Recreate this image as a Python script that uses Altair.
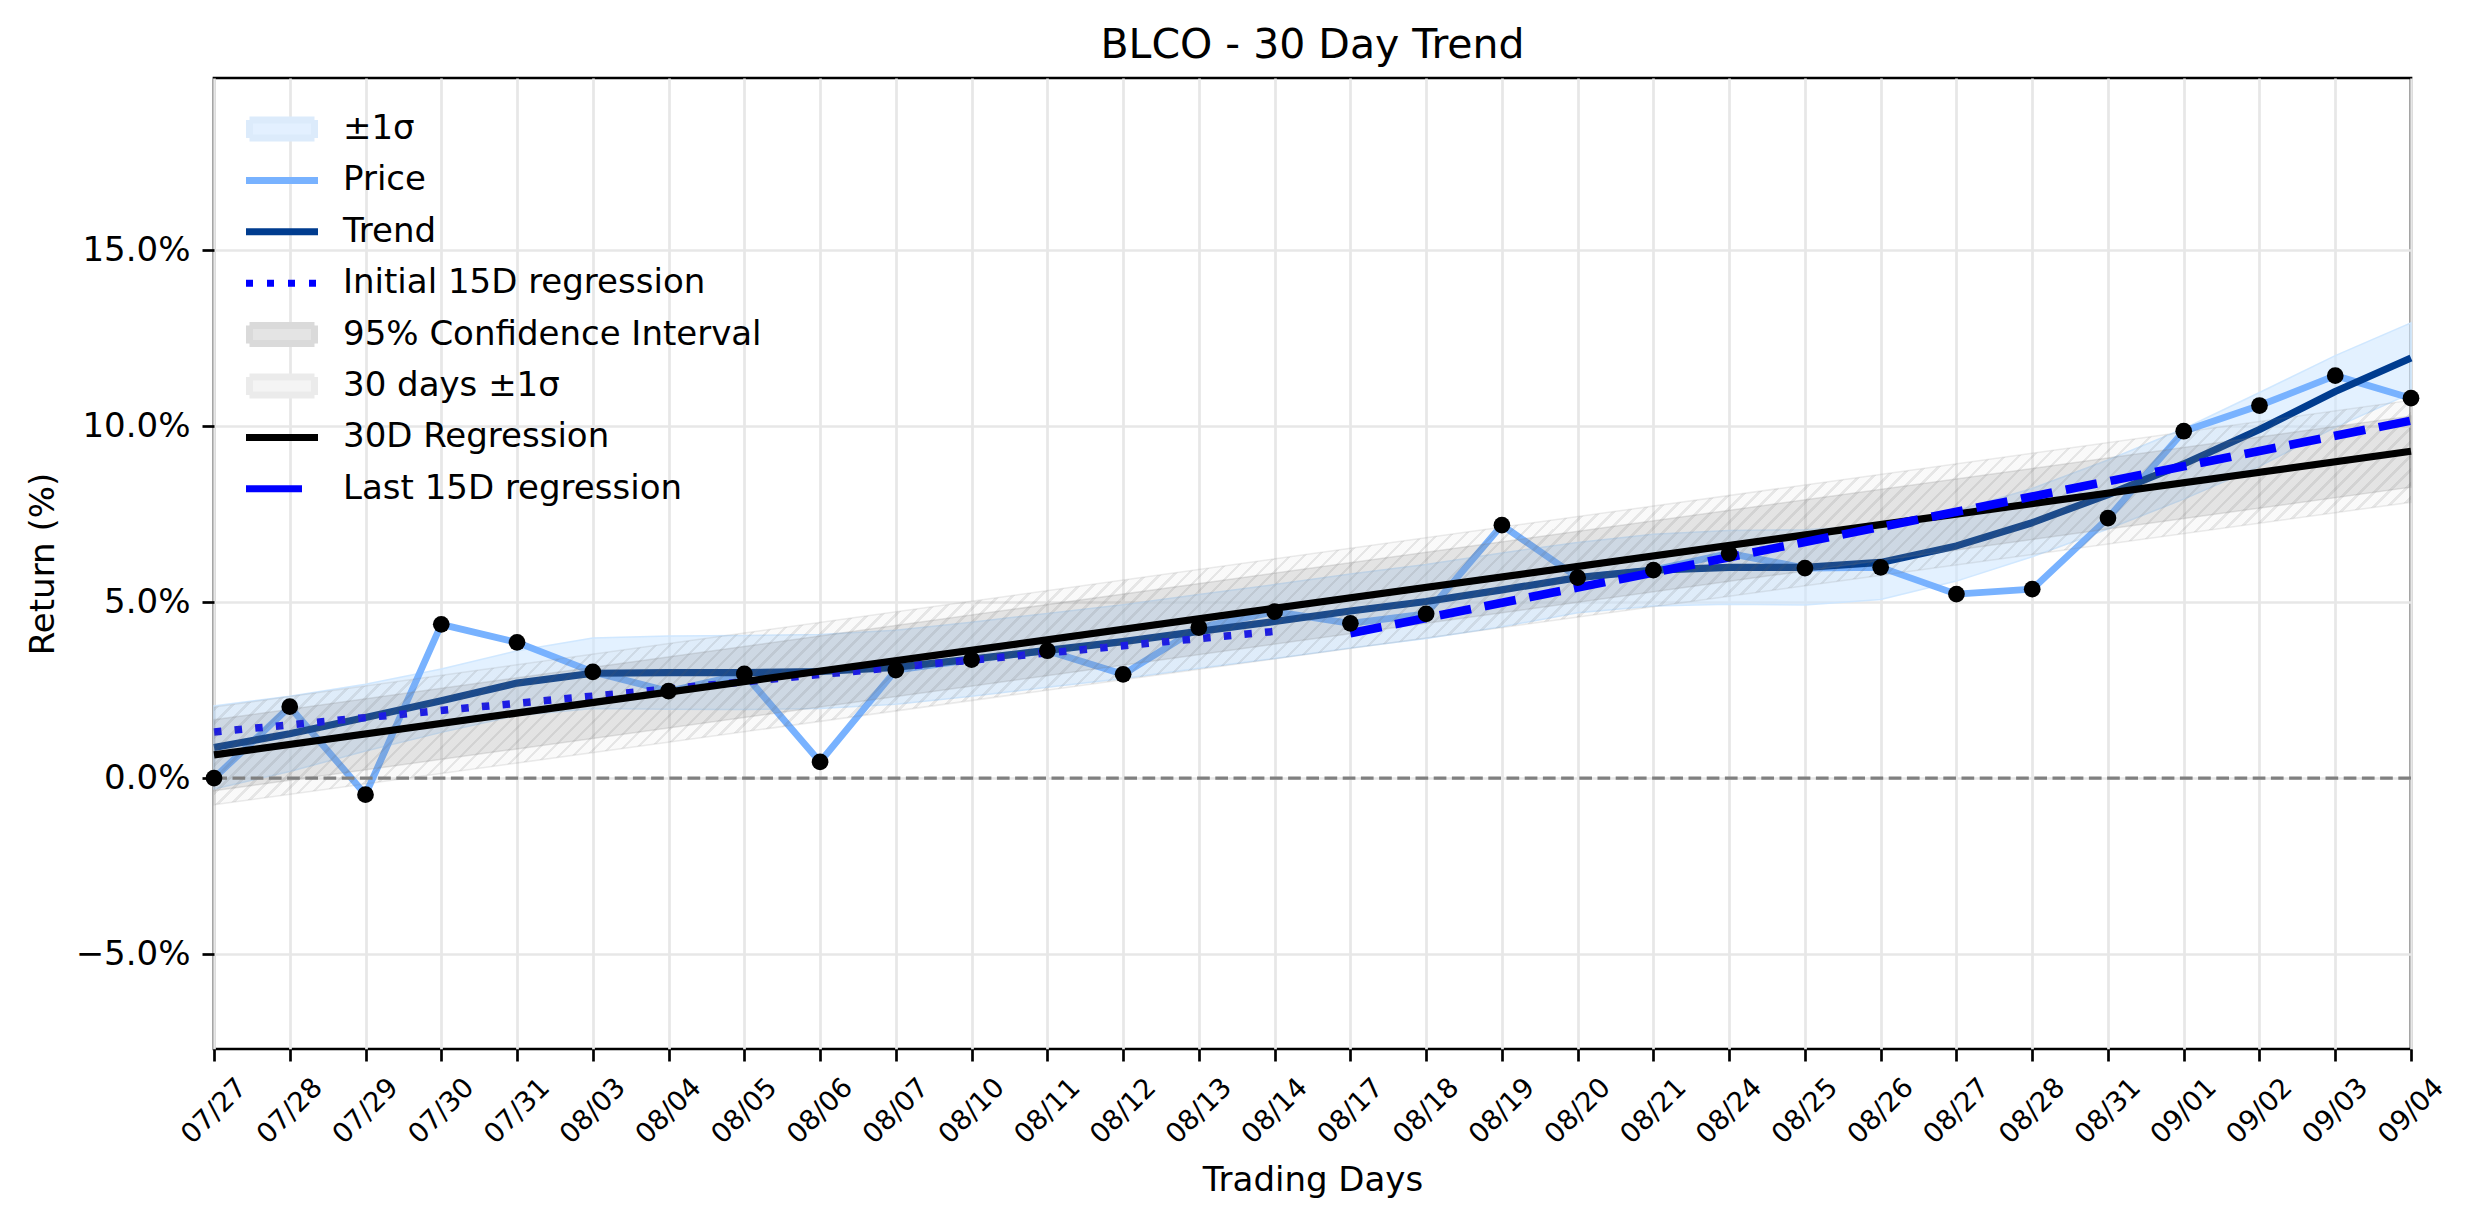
import altair as alt
import pandas as pd

FONT = "DejaVu Sans"

# ---------------- data ----------------
days = ["07/27", "07/28", "07/29", "07/30", "07/31", "08/03", "08/04", "08/05", "08/06", "08/07",
        "08/10", "08/11", "08/12", "08/13", "08/14", "08/17", "08/18", "08/19", "08/20", "08/21",
        "08/24", "08/25", "08/26", "08/27", "08/28", "08/31", "09/01", "09/02", "09/03", "09/04"]
price = [0.00, 2.03, -0.47, 4.37, 3.86, 3.02, 2.47, 2.96, 0.46, 3.07,
         3.37, 3.62, 2.95, 4.28, 4.73, 4.40, 4.67, 7.19, 5.70, 5.91,
         6.39, 5.97, 5.99, 5.23, 5.37, 7.39, 9.86, 10.59, 11.44, 10.80]
trend = [0.87, 1.26, 1.72, 2.20, 2.70, 2.98, 3.00, 3.00, 3.03, 3.15,
         3.38, 3.63, 3.88, 4.17, 4.45, 4.75, 5.02, 5.35, 5.70, 5.91,
         5.99, 5.99, 6.13, 6.60, 7.26, 8.06, 8.93, 9.91, 10.99, 11.94]
sigma_upper = [2.05, 2.33, 2.67, 3.10, 3.62, 3.98, 4.04, 4.05, 4.08, 4.20,
               4.43, 4.68, 4.93, 5.22, 5.50, 5.80, 6.07, 6.40, 6.70, 6.93,
               7.04, 7.06, 7.18, 7.60, 8.23, 9.04, 9.93, 10.96, 12.01, 12.94]
sigma_lower = [-0.31, 0.19, 0.77, 1.30, 1.78, 1.98, 1.96, 1.95, 1.98, 2.10,
               2.33, 2.58, 2.83, 3.12, 3.40, 3.70, 3.97, 4.30, 4.70, 4.89,
               4.94, 4.92, 5.08, 5.60, 6.29, 7.08, 7.93, 8.86, 9.97, 10.94]

reg_days = ["07/27", "09/04"]
reg_values = [0.66, 9.29]
ci_lower = [-0.36, 8.27]
ci_upper = [1.66, 10.29]
band30_lower = [-0.76, 7.84]
band30_upper = [2.02, 10.74]

init_days = ["07/27", "08/14"]
init_values = [1.31, 4.17]
last_days = ["08/17", "09/04"]
last_values = [4.12, 10.16]

zero_level = [0.0]

labels = ["±1σ", "Price", "Trend", "Initial 15D regression", "95% Confidence Interval",
          "30 days ±1σ", "30D Regression", "Last 15D regression"]

y_ticks = [-5, 0, 5, 10, 15]
y_domain = [-7.7, 19.9]

# ---------------- styles ----------------
PRICE_C = "#78b2ff"
TREND_C = "#003c8f"
BLUE_C = "#0000ff"

# legend symbols: size 400 -> unit = 10 px; line paths carry the same
# vertical extent as the rectangles (move-to only) so every row has equal height
RECT = "M-3.25,-0.9H3.25V0.9H-3.25Z"
LINE = "M-3.6,0H3.6M-3.6,-0.9M-3.6,0.9"
legend_shapes = [RECT, LINE, LINE, LINE, RECT, RECT, LINE, LINE]
legend_fills = ["#e3f0ff", "transparent", "transparent", "transparent", "#e4e4e4",
                "#f4f4f4", "transparent", "transparent"]
legend_strokes = ["#dcebfb", PRICE_C, TREND_C, BLUE_C, "#dadada", "#ebebeb", "#000000", BLUE_C]
legend_dashes = [[1, 0], [1, 0], [1, 0], [7, 14], [1, 0], [1, 0], [1, 0], [56, 30]]


def hatch(n_lines, vx, vy, line_rgba, bg_rgba, frac=0.25):
    stops = []
    for i in range(n_lines):
        a = i / n_lines
        b = (i + frac) / n_lines
        c = (i + 1) / n_lines
        stops += [
            {"offset": round(a, 6), "color": line_rgba},
            {"offset": round(b, 6), "color": line_rgba},
            {"offset": round(b, 6), "color": bg_rgba},
            {"offset": round(c, 6), "color": bg_rgba},
        ]
    return {"gradient": "linear", "x1": 0, "y1": 0, "x2": vx, "y2": vy, "stops": stops}


plot_hatch = hatch(195, 1.2, 0.221, "rgba(100,100,100,0.16)", "rgba(128,128,128,0.045)")

W, H = 2197, 971

x_scale = alt.Scale(type="point", domain=days, padding=0)
y_scale = alt.Scale(domain=y_domain, nice=False, zero=False)

grid_color = "#e7e7e7"
x_axis = alt.Axis(
    title="Trading Days", labelAngle=-45, labelAlign="center", labelBaseline="middle",
    labelPadding=50, labelFontSize=27.5, labelFont=FONT, labelColor="black",
    labelOverlap=False, tickSize=12, tickWidth=2.7, tickColor="black", domain=False,
    grid=True, gridColor=grid_color, gridWidth=2.7,
    titleFont=FONT, titleFontSize=34, titleFontWeight="normal", titleColor="black",
    titleY=131, titleBaseline="middle",
)
y_axis = alt.Axis(
    title="Return (%)", values=y_ticks,
    labelExpr="format(datum.value, '.1f') + '%'",
    labelFontSize=34, labelFont=FONT, labelColor="black", labelPadding=12,
    tickSize=12, tickWidth=2.7, tickColor="black", domain=False,
    grid=True, gridColor=grid_color, gridWidth=2.7,
    titleFont=FONT, titleFontSize=34, titleFontWeight="normal", titleColor="black",
    titleX=-171, titleY=H / 2, titleAlign="center", titleBaseline="middle", titleAngle=270,
)

legend = alt.Legend(
    title=None, orient="none", legendX=51, legendY=34, padding=0,
    symbolSize=400, symbolStrokeWidth=7, symbolOpacity=1,
    labelFont=FONT, labelFontSize=34, labelColor="black", labelOffset=44, labelLimit=0,
    rowPadding=5.4,
)

x_enc = alt.X("day:O", scale=x_scale, axis=x_axis)


def y_enc(field):
    return alt.Y(f"{field}:Q", scale=y_scale, axis=y_axis)


main = pd.DataFrame({"day": days, "price": price, "trend": trend,
                     "upper": sigma_upper, "lower": sigma_lower})
reg = pd.DataFrame({"day": reg_days, "value": reg_values, "lo": ci_lower, "hi": ci_upper,
                    "lo30": band30_lower, "hi30": band30_upper})
init = pd.DataFrame({"day": init_days, "value": init_values})
last = pd.DataFrame({"day": last_days, "value": last_values})
zero = pd.DataFrame({"level": zero_level})
legend_df = pd.DataFrame({"series": labels})

sigma_band = alt.Chart(main).mark_area(
    fill="#cce5ff", fillOpacity=0.55, stroke="#cce5ff", strokeWidth=1.5, strokeOpacity=0.9
).encode(x=x_enc, y=y_enc("lower"), y2="upper")

price_line = alt.Chart(main).mark_line(
    color=PRICE_C, strokeWidth=6.8, strokeJoin="round", strokeCap="butt"
).encode(x=x_enc, y=y_enc("price"))

trend_line = alt.Chart(main).mark_line(
    color=TREND_C, strokeWidth=7.2, strokeJoin="round", strokeCap="butt"
).encode(x=x_enc, y=y_enc("trend"))

init_line = alt.Chart(init).mark_line(
    color=BLUE_C, strokeWidth=7.5, strokeDash=[7.5, 13.2], strokeCap="butt"
).encode(x=x_enc, y=y_enc("value"))

ci_band = alt.Chart(reg).mark_area(
    fill="#808080", fillOpacity=0.18, stroke="#808080", strokeWidth=1.5, strokeOpacity=0.2
).encode(x=x_enc, y=y_enc("lo"), y2="hi")

hatch_band = alt.Chart(reg).mark_area(
    fill=plot_hatch, stroke="#808080", strokeWidth=1.5, strokeOpacity=0.15
).encode(x=x_enc, y=y_enc("lo30"), y2="hi30")

reg_line = alt.Chart(reg).mark_line(
    color="black", strokeWidth=7.2, strokeCap="butt"
).encode(x=x_enc, y=y_enc("value"))

last_line = alt.Chart(last).mark_line(
    color=BLUE_C, strokeWidth=8.6, strokeDash=[31.8, 13.8], strokeCap="butt"
).encode(x=x_enc, y=y_enc("value"))

zero_line = alt.Chart(zero).mark_rule(
    color="#808080", strokeWidth=3.4, strokeDash=[12.7, 5.5]
).encode(y=y_enc("level"))

points = alt.Chart(main).mark_circle(size=280, color="black", opacity=1).encode(
    x=x_enc, y=y_enc("price")
)

# legend-only layer (invisible marks, the legend is built from its scales)
legend_layer = alt.Chart(legend_df).mark_point(opacity=0).encode(
    fill=alt.Fill("series:N", scale=alt.Scale(domain=labels, range=legend_fills), legend=legend),
    stroke=alt.Stroke("series:N", scale=alt.Scale(domain=labels, range=legend_strokes), legend=legend),
    shape=alt.Shape("series:N", scale=alt.Scale(domain=labels, range=legend_shapes), legend=legend),
    strokeDash=alt.StrokeDash("series:N", scale=alt.Scale(domain=labels, range=legend_dashes), legend=legend),
)

chart = alt.layer(
    sigma_band, price_line, trend_line, init_line, ci_band, hatch_band,
    reg_line, last_line, zero_line, points, legend_layer
).properties(
    width=W, height=H,
    title=alt.TitleParams("BLCO - 30 Day Trend", font=FONT, fontSize=41, fontWeight="normal",
                          color="black", anchor="middle", frame="group",
                          baseline="alphabetic", offset=19, dy=40),
    autosize=alt.AutoSizeParams(type="none"),
    padding={"left": 206, "top": 70, "right": 55, "bottom": 160},
).configure(
    font=FONT, background="white"
).configure_view(
    stroke="black", strokeWidth=2.7
)

chart.save("out.html", embed_options={"renderer": "svg", "actions": False})
